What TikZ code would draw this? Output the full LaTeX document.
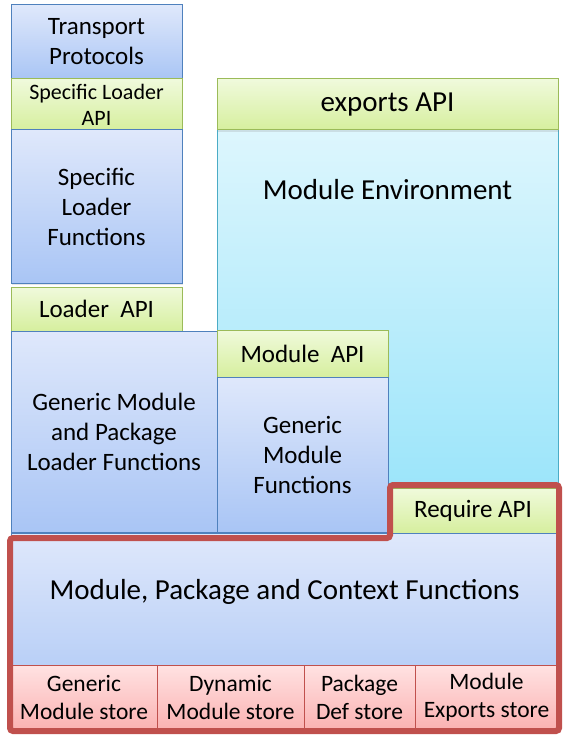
\documentclass[tikz,border=0pt]{standalone}
\usepackage{fontspec}
\setmainfont{Carlito}
\usetikzlibrary{shadows}
\definecolor{bluetop}{HTML}{DFE8FB}
\definecolor{bluebot}{HTML}{A9C5F5}
\definecolor{blueedge}{HTML}{4F81BD}
\definecolor{greentop}{HTML}{F0FADC}
\definecolor{greenbot}{HTML}{D6EF9E}
\definecolor{greenedge}{HTML}{9BBB59}
\definecolor{cyantop}{HTML}{DDF6FD}
\definecolor{cyanbot}{HTML}{9CE5FA}
\definecolor{cyanedge}{HTML}{4BACC6}
\definecolor{pinktop}{HTML}{FFE2E2}
\definecolor{pinkbot}{HTML}{FBB2B2}
\definecolor{rededge}{HTML}{C0504D}
\tikzset{
  base/.style={anchor=north west, inner sep=0pt, outer sep=0pt, align=center, line width=1pt,
    drop shadow={opacity=0.2, shadow xshift=1pt, shadow yshift=-2pt}},
  wh/.style 2 args={minimum width=#1pt, minimum height=#2pt},
  bluebox/.style={base, draw=blueedge, top color=bluetop, bottom color=bluebot},
  greenbox/.style={base, draw=greenedge, top color=greentop, bottom color=greenbot},
  cyanbox/.style={base, draw=cyanedge, top color=cyantop, bottom color=cyanbot},
  pinkbox/.style={base, draw=rededge, top color=pinktop, bottom color=pinkbot},
  redline/.style={draw=rededge, line width=6pt, rounded corners=3pt},
  txt/.style={font=\fontsize{25}{30}\selectfont},
  store/.style={font=\fontsize{23.5}{28}\selectfont},
  small/.style={font=\fontsize{22}{26}\selectfont},
  big/.style={font=\fontsize{29}{32}\selectfont},
}
\begin{document}
\begin{tikzpicture}[x=1pt,y=-1pt]
\useasboundingbox (0,0) rectangle (570,751);
% right column
\node[cyanbox, wh={341}{358}, label={[anchor=center, yshift=-60pt, big]north:Module Environment}] (env) at (217,130) {};
\node[greenbox, wh={341}{51}, big] (exp) at (217,79) {exports API};
% left column
\node[bluebox, wh={171}{74}, txt] (tp) at (11,5) {Transport\\Protocols};
\node[greenbox, wh={171}{51}, small] (sla) at (11,79) {Specific Loader\\API};
\node[bluebox, wh={171}{153}, txt] (slf) at (11,130) {Specific\\Loader\\Functions};
\node[greenbox, wh={171}{44}, txt] (la) at (11,287) {Loader~~API};
\node[bluebox, wh={206}{201}, txt] (gml) at (11,331) {Generic Module\\and Package\\Loader Functions};
% middle
\node[greenbox, wh={171}{47}, txt] (ma) at (217,330) {Module~~API};
\node[bluebox, wh={171}{155}, txt] (gmf) at (217,377) {Generic\\Module\\Functions};
\node[greenbox, wh={170}{45}, txt] (ra) at (388,488) {Require API};
% bottom
\node[base, draw=blueedge, top color=bluetop, bottom color=bluebot!70!bluetop, wh={547}{132},
  label={[anchor=center, yshift=-59pt, big]north:Module, Package and Context Functions}] (mpc) at (11,533) {};
\node[pinkbox, wh={146}{64}, store] (s1) at (11,665) {Generic\\Module store};
\node[pinkbox, wh={147}{64}, store] (s2) at (157,665) {Dynamic\\Module store};
\node[pinkbox, wh={111}{64}, store] (s3) at (304,665) {Package\\Def store};
\node[pinkbox, wh={143}{64}, store] (s4) at (415,665) {Module\\Exports store};
% red outline
\draw[redline] (10,538) -- (390,538) -- (390,485) -- (559,485) -- (559,731) -- (10,731) -- cycle;
\end{tikzpicture}
\end{document}
